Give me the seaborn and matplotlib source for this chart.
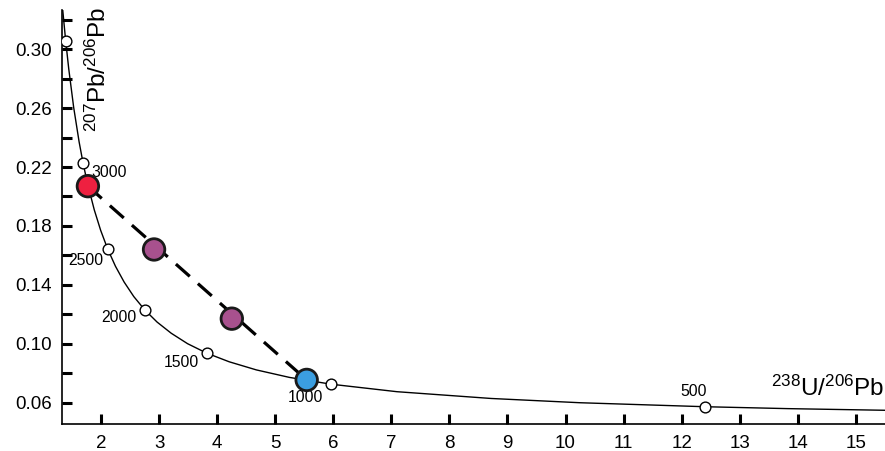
import pandas as pd
import matplotlib
matplotlib.use("Agg")
import matplotlib.pyplot as plt
import seaborn as sns

sns.set_theme(style="white")
plt.rcParams['font.family'] = ['Liberation Sans', 'DejaVu Sans']
plt.rcParams['mathtext.fontset'] = 'custom'
plt.rcParams['mathtext.rm'] = 'Liberation Sans'
plt.rcParams['mathtext.it'] = 'Liberation Sans'
plt.rcParams['text.color'] = 'black'
plt.rcParams['xtick.color'] = 'black'
plt.rcParams['ytick.color'] = 'black'
plt.rcParams['xtick.labelcolor'] = 'black'
plt.rcParams['ytick.labelcolor'] = 'black'

# concordia curve, points (238U/206Pb, 207Pb/206Pb)
curve_x = [1.313, 1.337, 1.387, 1.440, 1.525, 1.619, 1.687, 1.760, 1.880, 1.990,
           2.111, 2.245, 2.394, 2.561, 2.749, 2.962, 3.206, 3.488, 3.817, 4.206,
           4.673, 5.244, 5.959, 7.095, 8.718, 10.252, 12.399, 13.831, 15.621, 16.469]
curve_y = [0.3373, 0.3264, 0.3058, 0.2867, 0.2605, 0.2370, 0.2227, 0.2093, 0.1909, 0.1770,
           0.1643, 0.1526, 0.1419, 0.1320, 0.1230, 0.1147, 0.1071, 0.1000, 0.0936, 0.0877,
           0.0822, 0.0771, 0.0725, 0.0674, 0.0628, 0.0599, 0.0572, 0.0559, 0.0547, 0.0542]

# age markers on the concordia (Ma)
age_x = [1.387, 1.687, 2.111, 2.749, 3.817, 5.959, 12.399]
age_y = [0.3058, 0.2227, 0.1643, 0.1230, 0.0936, 0.0725, 0.0572]
age_text = ["", "3000", "2500", "2000", "1500", "1000", "500"]

# samples
sample_x = [1.77, 2.91, 4.25, 5.54]
sample_y = [0.207, 0.164, 0.117, 0.0754]
sample_color = ["#ee2040", "#a8518e", "#a8518e", "#3b9ee0"]

y_major = [0.06, 0.10, 0.14, 0.18, 0.22, 0.26, 0.30]
y_minor = [0.08, 0.12, 0.16, 0.20, 0.24, 0.28, 0.32]
x_ticks = list(range(2, 16))

fig = plt.figure(figsize=(8.85, 4.51), dpi=100)
ax = fig.add_axes([0.070, 0.060, 0.930, 0.918])

curve = pd.DataFrame({"x": curve_x, "y": curve_y})
sns.lineplot(data=curve, x="x", y="y", sort=False, color="black", lw=1.0, ax=ax)

disc = pd.DataFrame({"x": [sample_x[0], sample_x[-1]], "y": [sample_y[0], sample_y[-1]]})
sns.lineplot(data=disc, x="x", y="y", sort=False, color="black", lw=2.3,
             linestyle=(0, (5.8, 3.4)), ax=ax)

sns.scatterplot(x=age_x, y=age_y, s=60, color="white", edgecolor="black",
                linewidth=1.0, zorder=4, ax=ax)

sns.scatterplot(x=sample_x, y=sample_y, hue=list(range(len(sample_x))),
                palette=sample_color, s=240, edgecolor="#1a1a1a", linewidth=2.0,
                legend=False, zorder=5, ax=ax)

offsets = [(0, 0), (5.8, -6.5), (-3.4, -8.6), (-5.6, -5.8), (-5.5, -6.5), (-18.4, -9.9), (-7.8, 10.9)]
aligns = ["left", "left", "right", "right", "right", "center", "center"]
for xv, yv, t, off, ha in zip(age_x, age_y, age_text, offsets, aligns):
    if t:
        ax.annotate(t, (xv, yv), xytext=off, textcoords="offset points",
                    ha=ha, va="center", fontsize=11.3, color="black")

ax.set_xlim(1.323, 15.505)
ax.set_ylim(0.0455, 0.3267)
ax.set_xticks(x_ticks)
ax.set_yticks(y_major)
ax.set_yticklabels([f"{v:.2f}" for v in y_major])
ax.set_yticks(y_minor, minor=True)
ax.tick_params(axis="both", which="both", direction="in", length=7, width=2.2,
               color="black", labelsize=13.5, pad=7)
ax.tick_params(axis="y", which="both", left=True)
ax.tick_params(axis="x", which="both", bottom=True, pad=8)
ax.set_xlabel("")
ax.set_ylabel("")
for side in ["top", "right"]:
    ax.spines[side].set_visible(False)
for side in ["left", "bottom"]:
    ax.spines[side].set_color("black")
    ax.spines[side].set_linewidth(1.2)

fig.text(0.1107, 0.985, r"$^{207}$Pb/$^{206}$Pb", rotation=90, ha="center", va="top", fontsize=17.5)
fig.text(0.999, 0.14, r"$^{238}$U/$^{206}$Pb", ha="right", va="center", fontsize=17.5)

fig.savefig("out.png", dpi=100)
